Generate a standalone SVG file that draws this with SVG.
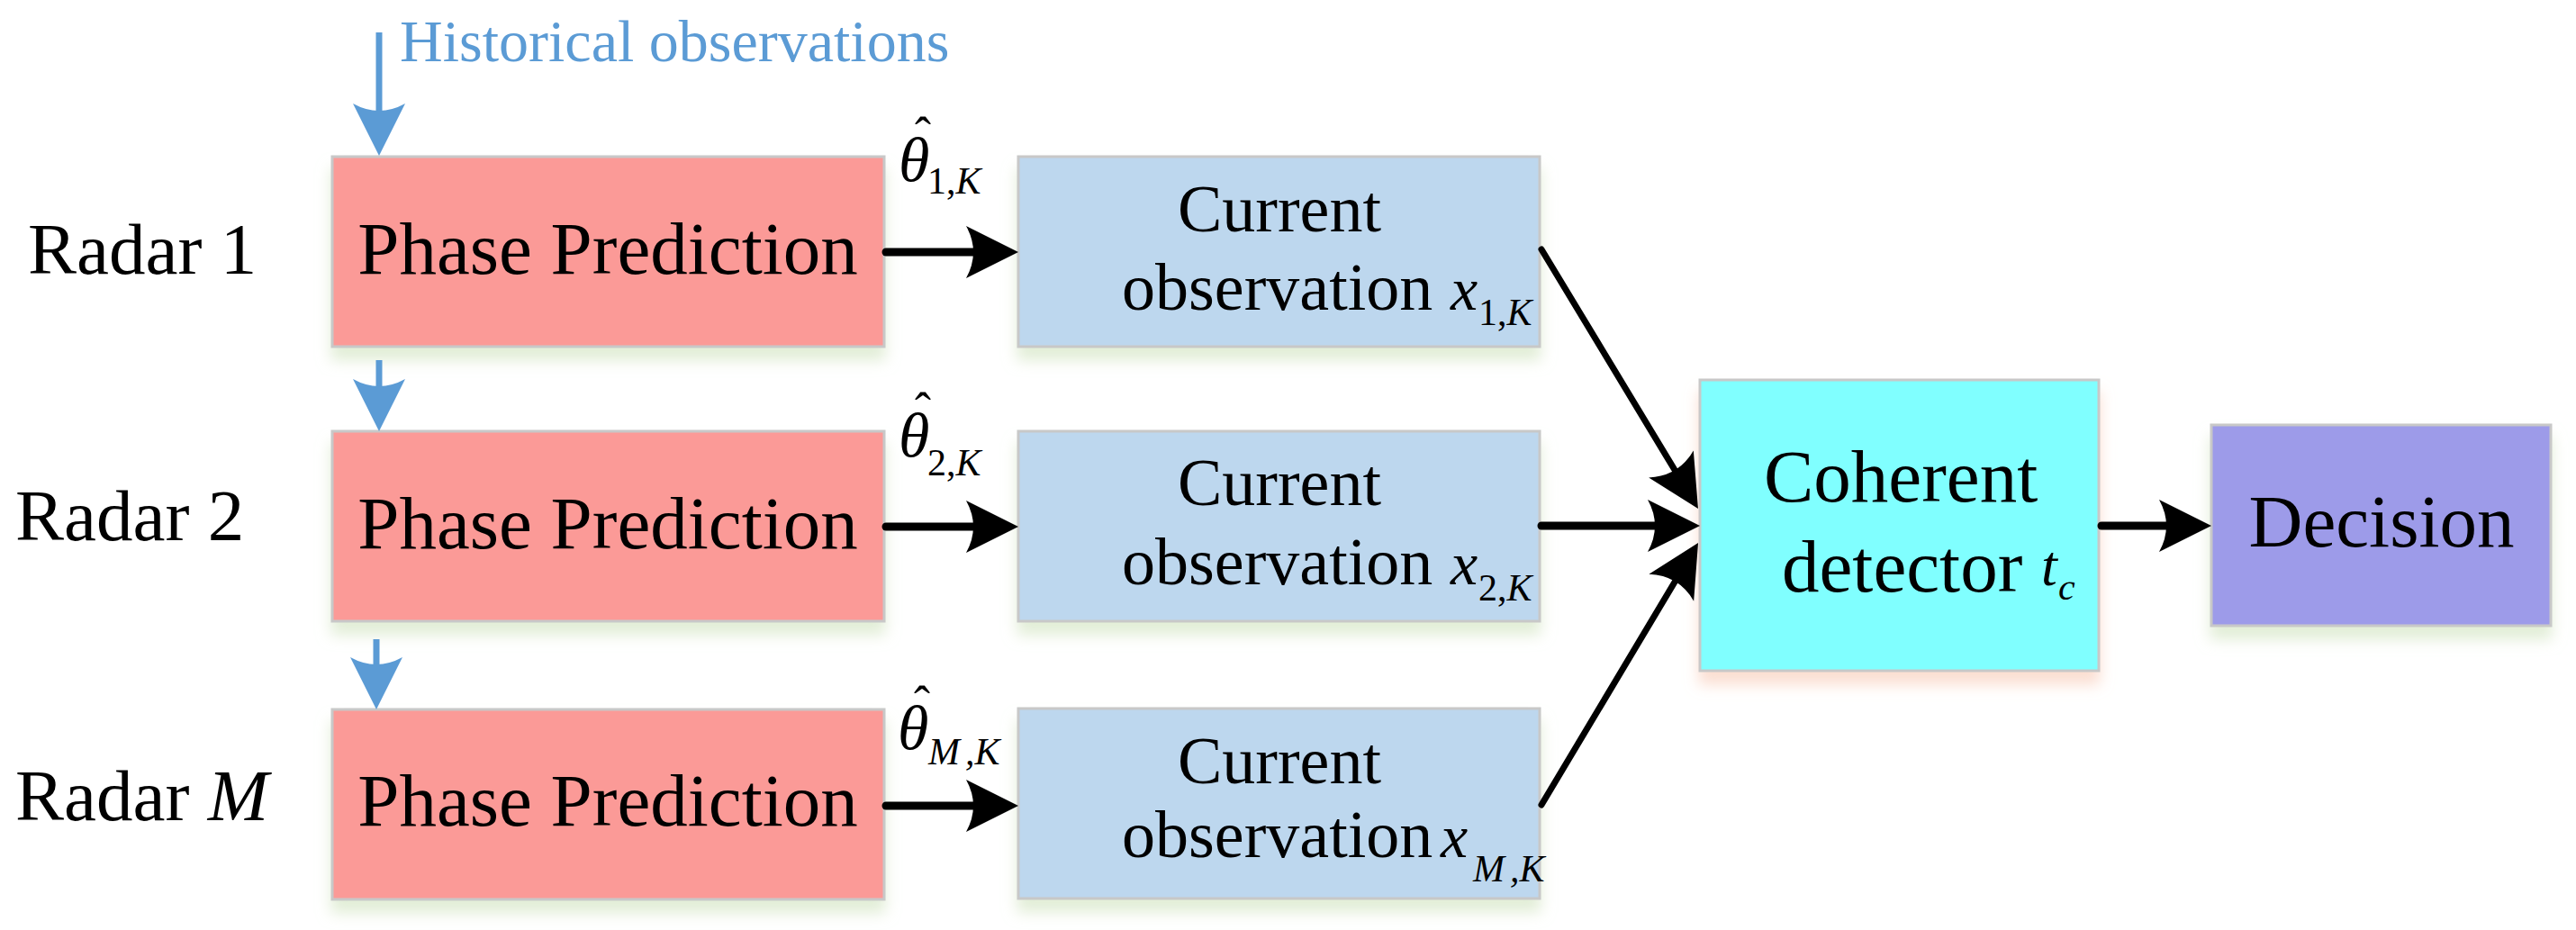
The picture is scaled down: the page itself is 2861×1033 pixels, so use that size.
<svg xmlns="http://www.w3.org/2000/svg" width="2861" height="1033" viewBox="0 0 2861 1033">
<style>
text{font-family:"Liberation Serif","Times New Roman",serif;fill:#000}
.lbl{font-size:81px}
.pp{font-size:83px;text-anchor:middle}
.co{font-size:74px}
.big{font-size:83px}
.it{font-style:italic}
.sub{font-size:42px;font-style:italic}
.subr{font-size:42px}
.th{font-size:70px;font-style:italic}
.hat{font-size:54px;text-anchor:middle}
.box{stroke:#c8c8c8;stroke-width:3}
.phase{fill:#fb9a97}
.cur{fill:#bdd7ee}
.coh{fill:#80ffff}
.dec{fill:#9d9be9}
.blk{stroke:#000;stroke-width:9;stroke-linecap:round;fill:none}
.blu{stroke:#5b9bd5;stroke-width:7;fill:none}
</style>
<defs>
<filter id="sg" x="-10%" y="-10%" width="120%" height="140%">
<feDropShadow dx="0" dy="14" stdDeviation="8" flood-color="#d6e6c6" flood-opacity="0.7"/>
</filter>
<filter id="sp" x="-10%" y="-10%" width="120%" height="140%">
<feDropShadow dx="0" dy="14" stdDeviation="8" flood-color="#fad6c6" flood-opacity="0.8"/>
</filter>
<marker id="ab" markerUnits="userSpaceOnUse" viewBox="-60 -31 62 62" markerWidth="62" markerHeight="62" refX="-40" refY="0" orient="auto">
<path d="M0,0 L-58,-29 Q-42,0 -58,29 Z" fill="#000"/>
</marker>
<marker id="au" markerUnits="userSpaceOnUse" viewBox="-60 -31 62 62" markerWidth="62" markerHeight="62" refX="-40" refY="0" orient="auto">
<path d="M0,0 L-58,-29 Q-42,0 -58,29 Z" fill="#5b9bd5"/>
</marker>
</defs>
<rect width="2861" height="1033" fill="#fff"/>

<g id="historical">
<text x="444" y="68" style="font-size:66px;fill:#5b9bd5">Historical observations</text>
</g>

<g id="radar-labels">
<text class="lbl" x="31" y="304">Radar 1</text>
<text class="lbl" x="17" y="600">Radar 2</text>
<text class="lbl" x="17" y="911">Radar <tspan class="it">M</tspan></text>
</g>

<g id="phase1">
<rect class="box phase" x="369" y="174" width="613" height="211" filter="url(#sg)"/>
<text class="pp" x="675" y="304">Phase Prediction</text>
</g>
<g id="phase2">
<rect class="box phase" x="369" y="479" width="613" height="211" filter="url(#sg)"/>
<text class="pp" x="675" y="609">Phase Prediction</text>
</g>
<g id="phase3">
<rect class="box phase" x="369" y="788" width="613" height="211" filter="url(#sg)"/>
<text class="pp" x="675" y="917">Phase Prediction</text>
</g>

<g id="theta-labels">
<text class="hat" x="1025" y="168">ˆ</text>
<text class="th" x="998" y="201">θ</text>
<text class="subr" x="1030" y="215">1,<tspan class="it">K</tspan></text>
<text class="hat" x="1025" y="474">ˆ</text>
<text class="th" x="998" y="507">θ</text>
<text class="subr" x="1030" y="528">2,<tspan class="it">K</tspan></text>
<text class="hat" x="1024" y="800">ˆ</text>
<text class="th" x="997" y="832">θ</text>
<text class="sub" x="1031" y="849">M<tspan dx="6">,</tspan>K</text>
</g>

<g id="current1">
<rect class="box cur" x="1131" y="174" width="579" height="211" filter="url(#sg)"/>
<text class="co" x="1421" y="257" text-anchor="middle">Current</text>
<text class="co" x="1246" y="344">observation</text>
<text class="co it" x="1611" y="344" style="font-size:68px">x</text>
<text class="subr" x="1642" y="361">1,<tspan class="it">K</tspan></text>
</g>
<g id="current2">
<rect class="box cur" x="1131" y="479" width="579" height="211" filter="url(#sg)"/>
<text class="co" x="1421" y="561" text-anchor="middle">Current</text>
<text class="co" x="1246" y="649">observation</text>
<text class="co it" x="1611" y="649" style="font-size:68px">x</text>
<text class="subr" x="1642" y="667">2,<tspan class="it">K</tspan></text>
</g>
<g id="current3">
<rect class="box cur" x="1131" y="787" width="579" height="211" filter="url(#sg)"/>
<text class="co" x="1421" y="870" text-anchor="middle">Current</text>
<text class="co" x="1246" y="952">observation</text>
<text class="co it" x="1600" y="952" style="font-size:68px">x</text>
<text class="sub" x="1636" y="979">M<tspan dx="6">,</tspan>K</text>
</g>

<g id="coherent">
<rect class="box coh" x="1888" y="422" width="443" height="323" filter="url(#sp)"/>
<text class="big" x="1959" y="557">Coherent</text>
<text class="big" x="1979" y="657">detector</text>
<text class="it" x="2267" y="650" style="font-size:64px">t</text>
<text class="sub" x="2286" y="666" style="font-size:42px">c</text>
</g>

<g id="decision">
<rect class="box dec" x="2456" y="472" width="377" height="223" filter="url(#sg)"/>
<text class="big" x="2645" y="607" text-anchor="middle">Decision</text>
</g>

<g id="connectors">
<line class="blu" x1="421" y1="36" x2="421" y2="133" marker-end="url(#au)"/>
<line class="blu" x1="421" y1="400" x2="421" y2="439" marker-end="url(#au)"/>
<line class="blu" x1="418" y1="710" x2="418" y2="748" marker-end="url(#au)"/>
<line class="blk" x1="984" y1="280" x2="1091" y2="280" marker-end="url(#ab)"/>
<line class="blk" x1="984" y1="585" x2="1091" y2="585" marker-end="url(#ab)"/>
<line class="blk" x1="984" y1="895" x2="1091" y2="895" marker-end="url(#ab)"/>
<line class="blk" x1="1712" y1="584" x2="1848" y2="584" marker-end="url(#ab)"/>
<line class="blk" style="stroke-width:7" x1="1712" y1="277" x2="1865.3" y2="530.8" marker-end="url(#ab)"/>
<line class="blk" style="stroke-width:7" x1="1712" y1="894" x2="1865.5" y2="637.3" marker-end="url(#ab)"/>
<line class="blk" x1="2334" y1="584" x2="2416" y2="584" marker-end="url(#ab)"/>
</g>
</svg>
